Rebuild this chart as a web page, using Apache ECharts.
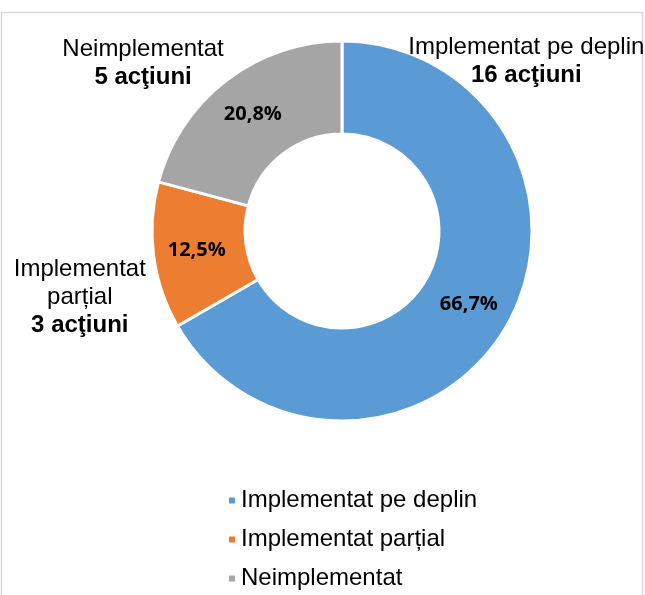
<!DOCTYPE html>
<html>
<head>
<meta charset="utf-8">
<script src="https://cdn.jsdelivr.net/npm/echarts@6/dist/echarts.min.js"></script>
<style>html,body{margin:0;padding:0;background:#fff}#c{width:645px;height:595px}</style>
</head>
<body>
<div id="c"></div>
<script>
const categories = ['Implementat pe deplin', 'Implementat parțial', 'Neimplementat'];
const outerNames = ['Implementat pe deplin', 'Implementat\nparțial', 'Neimplementat'];
const counts = [16, 3, 5];
const percents = ['66,7%', '12,5%', '20,8%'];
const colors = ['#5b9bd5', '#ed7d31', '#a5a5a5'];

const chart = echarts.init(document.getElementById('c'));
const cx = 342, cy = 231, R = 190, r = 97;
// outer label anchors as fractions of radius from centre
const anchors = [[0.97, -0.895], [-1.38, 0.347], [-1.047, -0.88]];

const innerData = categories.map((n, i) => ({
  name: n, value: counts[i], itemStyle: { color: colors[i] },
  label: { formatter: percents[i] }
}));
const outerData = categories.map((n, i) => ({
  name: n, value: counts[i],
  label: { formatter: '{n|' + outerNames[i] + '}\n{b|' + counts[i] + ' acţiuni}' }
}));

const fam = 'Liberation Sans, Arial';
chart.setOption({
  animation: false,
  graphic: [{
    type: 'rect', silent: true, z: -10,
    shape: { x: 1.5, y: 12.5, width: 641, height: 600 },
    style: { fill: 'none', stroke: '#d9d9d9', lineWidth: 1.5 }
  }],
  legend: {
    orient: 'vertical', left: 222, top: 482, height: 160,
    itemWidth: 8, itemHeight: 8, itemGap: 12,
    icon: 'rect',
    data: categories,
    textStyle: { fontFamily: fam, fontSize: 24, color: '#000', lineHeight: 27 }
  },
  series: [{
    type: 'pie',
    center: [cx, cy], radius: [r, R],
    startAngle: 90, clockwise: true,
    itemStyle: { borderColor: '#fff', borderWidth: 3 },
    label: {
      position: 'inside', fontFamily: 'Open Sans', fontWeight: 'bold',
      fontSize: 20, color: '#000'
    },
    labelLine: { show: false },
    emphasis: { disabled: true },
    data: innerData
  }, {
    type: 'pie',
    center: [cx, cy], radius: [r, R],
    startAngle: 90, clockwise: true,
    silent: true,
    itemStyle: { color: 'rgba(0,0,0,0)' },
    label: {
      position: 'outside', align: 'center', overflow: 'none', width: 400,
      rich: {
        n: { fontFamily: fam, fontSize: 24, color: '#000', lineHeight: 28, align: 'center' },
        b: { fontFamily: fam, fontSize: 24, fontWeight: 'bold', color: '#000', lineHeight: 28, align: 'center' }
      }
    },
    labelLine: { show: false },
    labelLayout: function (p) {
      const a = anchors[p.dataIndex];
      return { x: cx + a[0] * R, y: cy + a[1] * R, align: 'center', verticalAlign: 'middle' };
    },
    emphasis: { disabled: true },
    data: outerData
  }]
});
</script>
</body>
</html>
